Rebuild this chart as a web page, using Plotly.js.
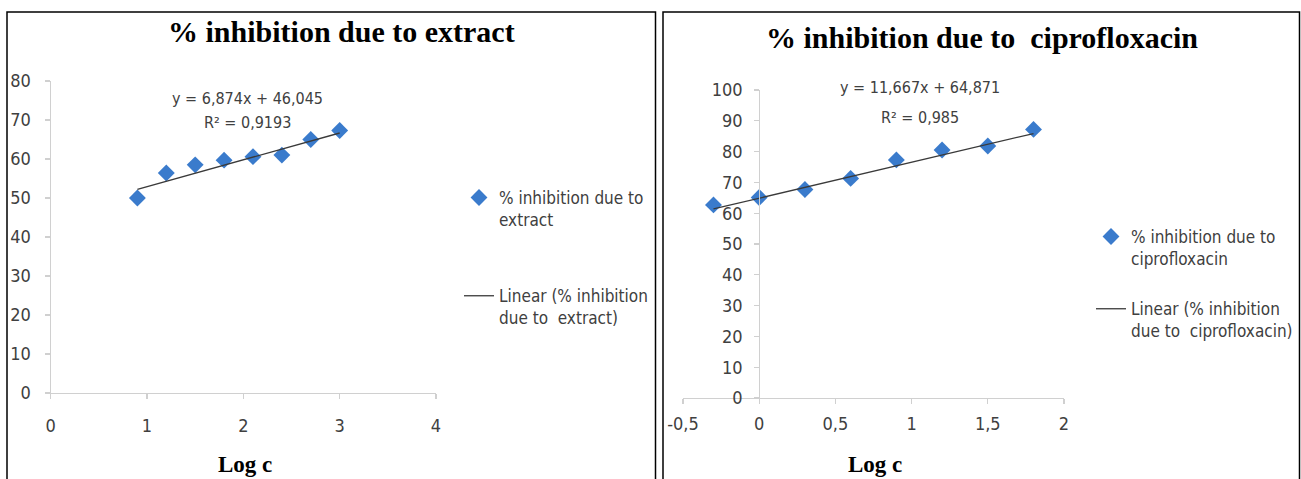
<!DOCTYPE html>
<html>
<head>
<meta charset="utf-8">
<script src="https://cdn.plot.ly/plotly-3.0.1.min.js"></script>
<style>
  html, body { margin: 0; padding: 0; background: #ffffff; overflow: hidden; }
  #chart { width: 1301px; height: 479px; }
</style>
</head>
<body>
<div id="chart"></div>
<script>
// ---- Data: % inhibition due to extract ----
const extractLogC = [0.9, 1.2, 1.5, 1.8, 2.1, 2.4, 2.7, 3.0];
const extractInhibition = [50.0, 56.4, 58.5, 59.7, 60.6, 61.0, 65.0, 67.3];
const extractSlope = 6.874;
const extractIntercept = 46.045;
const extractR2 = 0.9193;
const extractXTickVals = [0, 1, 2, 3, 4];
const extractXTickText = ['0', '1', '2', '3', '4'];
const extractYTickVals = [0, 10, 20, 30, 40, 50, 60, 70, 80];

// ---- Data: % inhibition due to ciprofloxacin ----
const ciproLogC = [-0.3, 0.0, 0.3, 0.6, 0.9, 1.2, 1.5, 1.8];
const ciproInhibition = [62.7, 65.1, 67.7, 71.3, 77.3, 80.5, 81.8, 87.2];
const ciproSlope = 11.667;
const ciproIntercept = 64.871;
const ciproR2 = 0.985;
const ciproXTickVals = [-0.5, 0, 0.5, 1, 1.5, 2];
const ciproXTickText = ['-0,5', '0', '0,5', '1', '1,5', '2'];
const ciproYTickVals = [0, 10, 20, 30, 40, 50, 60, 70, 80, 90, 100];

// ---- helpers ----
const W = 1301, H = 479;
const px = x => x / W;
const py = y => 1 - y / H;
const comma = (v, d) => v.toFixed(d).replace('.', ',');
const fitLine = (xs, m, b) => {
  const lo = Math.min(...xs), hi = Math.max(...xs);
  return { x: [lo, hi], y: [m * lo + b, m * hi + b] };
};

const SANS = '"DejaVu Sans Condensed", "Liberation Sans Narrow", "Liberation Sans", sans-serif';
const SERIF = '"Liberation Serif", "Times New Roman", serif';
const TEXT = '#404040';
const AXIS = '#d0d0d0';
const BLUE = '#3a7bcc';
const TREND = '#3a3a3a';

const extractFit = fitLine(extractLogC, extractSlope, extractIntercept);
const ciproFit = fitLine(ciproLogC, ciproSlope, ciproIntercept);

const traces = [
  {
    type: 'scatter', mode: 'markers', x: extractLogC, y: extractInhibition,
    xaxis: 'x', yaxis: 'y', legend: 'legend', legendgroup: 'a1',
    name: '% inhibition due to<br>extract',
    marker: { symbol: 'diamond', size: 13, color: BLUE }
  },
  {
    type: 'scatter', mode: 'lines', x: extractFit.x, y: extractFit.y,
    xaxis: 'x', yaxis: 'y', legend: 'legend', legendgroup: 'a2',
    name: 'Linear (% inhibition<br>due to\u00a0 extract)',
    line: { color: TREND, width: 1.3 }
  },
  {
    type: 'scatter', mode: 'markers', x: ciproLogC, y: ciproInhibition,
    xaxis: 'x2', yaxis: 'y2', legend: 'legend2', legendgroup: 'b1',
    name: '% inhibition due to<br>ciprofloxacin',
    marker: { symbol: 'diamond', size: 13, color: BLUE }
  },
  {
    type: 'scatter', mode: 'lines', x: ciproFit.x, y: ciproFit.y,
    xaxis: 'x2', yaxis: 'y2', legend: 'legend2', legendgroup: 'b2',
    name: 'Linear (% inhibition<br>due to\u00a0 ciprofloxacin)',
    line: { color: TREND, width: 1.3 }
  }
];

const axisCommon = {
  showgrid: false, zeroline: false, showline: true,
  linecolor: AXIS, linewidth: 1.2,
  ticks: 'outside', ticklen: 5, tickcolor: AXIS, tickwidth: 1.2,
  tickfont: { family: SANS, size: 18, color: TEXT },
  tickmode: 'array', fixedrange: true
};

const xDom1 = [px(50.7), px(436)];
const xDom2 = [px(683), px(1064)];
const xRange2 = [-0.5, 2];
const yPos2 = xDom2[0] + (0 - xRange2[0]) / (xRange2[1] - xRange2[0]) * (xDom2[1] - xDom2[0]);

const legendCommon = {
  bgcolor: 'rgba(0,0,0,0)', borderwidth: 0,
  font: { family: SANS, size: 17, color: TEXT },
  valign: 'top', itemwidth: 30,
  xanchor: 'left', yanchor: 'top', traceorder: 'grouped'
};

const annFont = { family: SANS, size: 16, color: TEXT };
const titleFont = { family: SERIF, size: 30, color: '#000000', weight: 'bold' };
const axTitleFont = { family: SERIF, size: 23, color: '#000000', weight: 'bold' };

const ann = (text, x, y, font) => ({
  text, xref: 'paper', yref: 'paper', x: px(x), y: py(y),
  xanchor: 'center', yanchor: 'middle', showarrow: false, font
});

const layout = {
  width: W, height: H,
  margin: { l: 0, r: 0, t: 0, b: 0, autoexpand: false },
  paper_bgcolor: '#ffffff', plot_bgcolor: 'rgba(0,0,0,0)',
  showlegend: true,
  xaxis: Object.assign({}, axisCommon, {
    domain: xDom1, range: [0, 4], anchor: 'y',
    tickvals: extractXTickVals, ticktext: extractXTickText, ticklabelstandoff: 11
  }),
  yaxis: Object.assign({}, axisCommon, {
    domain: [py(393), py(81)], range: [0, 80], anchor: 'x',
    tickvals: extractYTickVals, ticklabelstandoff: 10
  }),
  xaxis2: Object.assign({}, axisCommon, {
    domain: xDom2, range: xRange2, anchor: 'y2',
    tickvals: ciproXTickVals, ticktext: ciproXTickText, ticklabelstandoff: 4
  }),
  yaxis2: Object.assign({}, axisCommon, {
    domain: [py(398), py(90)], range: [0, 100], anchor: 'free', position: yPos2,
    tickvals: ciproYTickVals, ticklabelstandoff: 8
  }),
  legend: Object.assign({}, legendCommon, { x: px(459), y: py(180), tracegroupgap: 51 }),
  legend2: Object.assign({}, legendCommon, { x: px(1091), y: py(219), tracegroupgap: 25 }),
  annotations: [
    ann('% inhibition due to extract', 341, 31, titleFont),
    ann('% inhibition due to\u00a0 ciprofloxacin', 982, 37, titleFont),
    ann('y = ' + comma(extractSlope, 3) + 'x + ' + comma(extractIntercept, 3), 247, 98, annFont),
    ann('R² = ' + comma(extractR2, 4), 247, 123, annFont),
    ann('y = ' + comma(ciproSlope, 3) + 'x + ' + comma(ciproIntercept, 3), 920, 88, annFont),
    ann('R² = ' + comma(ciproR2, 3), 920, 117, annFont),
    ann('Log c', 245, 464, axTitleFont),
    ann('Log c', 875, 464, axTitleFont)
  ],
  shapes: [
    { type: 'rect', xref: 'paper', yref: 'paper', x0: px(7), x1: px(655.5), y0: -0.2, y1: py(12),
      line: { color: '#000000', width: 1.5 }, fillcolor: 'rgba(0,0,0,0)', layer: 'below' },
    { type: 'rect', xref: 'paper', yref: 'paper', x0: px(663), x1: px(1299.5), y0: -0.2, y1: py(12),
      line: { color: '#000000', width: 1.5 }, fillcolor: 'rgba(0,0,0,0)', layer: 'below' }
  ]
};

Plotly.newPlot('chart', traces, layout, { staticPlot: true, displayModeBar: false });
</script>
</body>
</html>
